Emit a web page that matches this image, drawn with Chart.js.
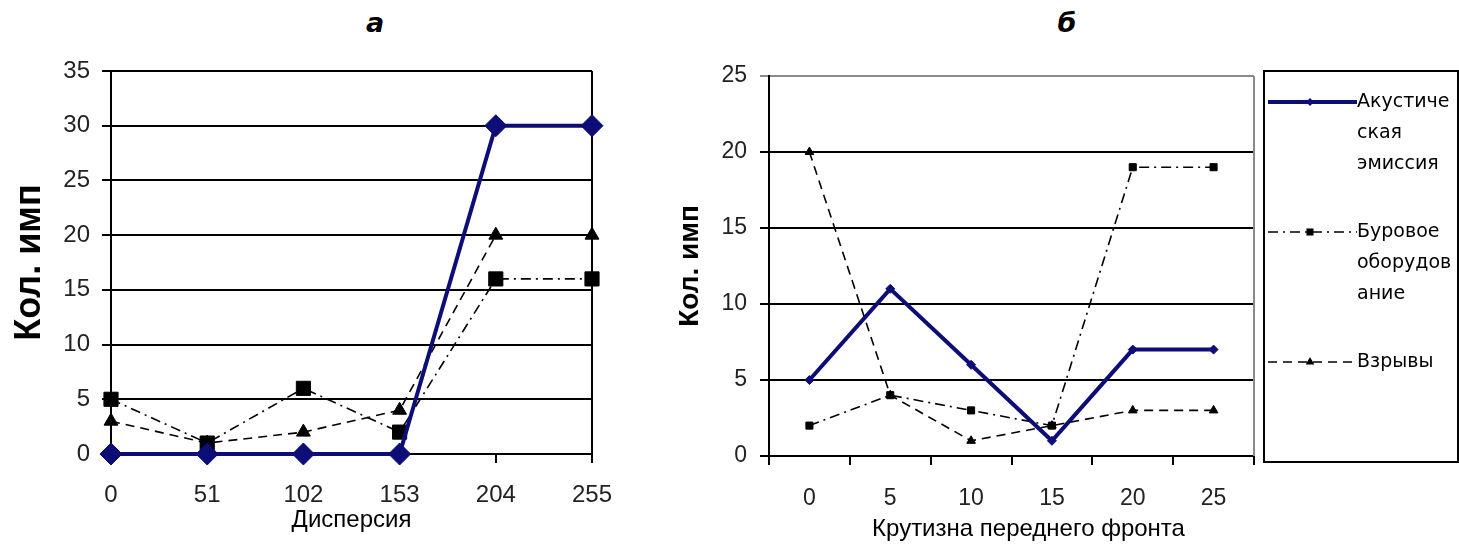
<!DOCTYPE html>
<html><head><meta charset="utf-8">
<script src="https://cdn.jsdelivr.net/npm/chart.js@4.4.1/dist/chart.umd.min.js"></script>
<style>
html,body{margin:0;padding:0;background:#fff;width:1459px;height:549px;overflow:hidden;}
#wa{position:absolute;left:0;top:0;width:640px;height:549px;}
#wb{position:absolute;left:640px;top:0;width:819px;height:549px;}
.ttl{position:absolute;top:9px;width:60px;margin-left:-30px;text-align:center;font-family:"DejaVu Sans";font-weight:bold;font-style:italic;font-size:27px;line-height:27px;color:#000;}
</style></head><body>
<div class="ttl" id="ta" style="left:375px"></div>
<div class="ttl" id="tb" style="left:1067px"></div>
<div id="wa"><canvas id="ca"></canvas></div>
<div id="wb"><canvas id="cb"></canvas></div>
<script>
// ---- data ----
const panelTitles = ['а', 'б'];
const dispersionLabels = ['0', '51', '102', '153', '204', '255'];
const acousticA = [0, 0, 0, 0, 30, 30];
const drillingA = [5, 1, 6, 2, 16, 16];
const blastsA   = [3, 1, 2, 4, 20, 20];
const slopeLabels = ['0', '5', '10', '15', '20', '25'];
const acousticB = [5, 11, 6, 1, 7, 7];
const drillingB = [2, 4, 3, 2, 19, 19];
const blastsB   = [20, 4, 1, 2, 3, 3];
const seriesNames = ['Акустическая эмиссия', 'Буровое оборудование', 'Взрывы'];
const legendLines = [['Акустиче', 'ская', 'эмиссия'], ['Буровое', 'оборудов', 'ание'], ['Взрывы']];
const yTitle = 'Кол. имп';
const xTitleA = 'Дисперсия';
const xTitleB = 'Крутизна переднего фронта';

document.getElementById('ta').textContent = panelTitles[0];
document.getElementById('tb').textContent = panelTitles[1];

const NAVY = '#0d0d78';
const FONT = 'Liberation Sans';

function makeSets(a, d, b, big) {
  return [
    {label: seriesNames[0], data: a, borderColor: NAVY, backgroundColor: NAVY,
     borderWidth: 4, pointStyle: 'rectRot', pointRadius: big ? 11 : 4.5,
     pointBorderWidth: 1, pointBorderColor: NAVY, pointBackgroundColor: NAVY, tension: 0, clip: false},
    {label: seriesNames[1], data: d, borderColor: '#000', backgroundColor: '#000',
     borderWidth: 1.6, borderDash: [10, 5, 2, 5], pointStyle: 'rect', pointRadius: big ? 10 : 5,
     pointBorderWidth: 1, pointBorderColor: '#000', pointBackgroundColor: '#000', tension: 0, clip: false},
    {label: seriesNames[2], data: b, borderColor: '#000', backgroundColor: '#000',
     borderWidth: 1.6, borderDash: [9, 6], pointStyle: 'triangle', pointRadius: big ? 8 : 5,
     pointBorderWidth: 1, pointBorderColor: '#000', pointBackgroundColor: '#000', tension: 0, clip: false}
  ];
}

function drawMarker(ctx, style, x, y, r, color) {
  ctx.save();
  ctx.fillStyle = color; ctx.setLineDash([]);
  ctx.beginPath();
  if (style === 'rectRot') {
    ctx.moveTo(x, y - r); ctx.lineTo(x + r, y); ctx.lineTo(x, y + r); ctx.lineTo(x - r, y);
  } else if (style === 'rect') {
    const s = r * Math.SQRT1_2; ctx.rect(x - s, y - s, 2 * s, 2 * s);
  } else {
    ctx.moveTo(x, y - r); ctx.lineTo(x + r * 0.866, y + r / 2); ctx.lineTo(x - r * 0.866, y + r / 2);
  }
  ctx.closePath(); ctx.fill();
  ctx.restore();
}

const frameRight = {
  id: 'frameRight',
  beforeDatasetsDraw(chart, args, opts) {
    const a = chart.chartArea, ctx = chart.ctx;
    ctx.save();
    ctx.strokeStyle = opts.color || '#000';
    ctx.lineWidth = 2;
    ctx.beginPath();
    ctx.moveTo(a.right, a.top);
    ctx.lineTo(a.right, a.bottom);
    ctx.stroke();
    ctx.restore();
  }
};

const shiftedXTitle = {
  id: 'shiftedXTitle',
  afterDraw(chart, args, opts) {
    if (!opts.text) return;
    const a = chart.chartArea, ctx = chart.ctx;
    ctx.save();
    ctx.fillStyle = '#000';
    ctx.font = opts.size + 'px "' + FONT + '"';
    ctx.textAlign = 'center';
    ctx.textBaseline = 'middle';
    ctx.fillText(opts.text, (a.left + a.right) / 2 + opts.dx, a.bottom + opts.dy);
    ctx.restore();
  }
};

const boxLegend = {
  id: 'boxLegend',
  afterDraw(chart, args, opts) {
    if (!opts.show) return;
    const a = chart.chartArea, ctx = chart.ctx;
    const x0 = a.right + 10, y0 = a.top - 5, x1 = chart.width - 1, y1 = a.bottom + 6;
    ctx.save();
    ctx.strokeStyle = '#000'; ctx.lineWidth = 2;
    ctx.strokeRect(x0, y0, x1 - x0, y1 - y0);
    const itemY = [102, 232, 362].map(v => v - 71 + y0);
    chart.data.datasets.forEach((ds, i) => {
      const y = itemY[i];
      ctx.save();
      ctx.strokeStyle = ds.borderColor;
      ctx.lineWidth = ds.borderWidth;
      ctx.setLineDash(ds.borderDash || []);
      ctx.beginPath(); ctx.moveTo(x0 + 4, y); ctx.lineTo(x0 + 93, y); ctx.stroke();
      ctx.restore();
      drawMarker(ctx, ds.pointStyle, x0 + 46, y, i === 0 ? 4 : 5, ds.borderColor);
      ctx.fillStyle = '#000';
      ctx.font = '19px "DejaVu Sans"';
      ctx.textAlign = 'left'; ctx.textBaseline = 'middle';
      legendLines[i].forEach((t, k) => ctx.fillText(t, x0 + 93, y + k * 31));
    });
    ctx.restore();
  }
};

Chart.register(frameRight, shiftedXTitle, boxLegend);

// ---- chart а ----
new Chart(document.getElementById('ca'), {
  type: 'line',
  data: {labels: dispersionLabels, datasets: makeSets(acousticA, drillingA, blastsA, true)},
  options: {
    responsive: true, maintainAspectRatio: false, animation: false,
    layout: {padding: {top: 71, right: 48, left: 0, bottom: 0}},
    plugins: {legend: {display: false}, tooltip: {enabled: false},
      frameRight: {color: '#000'}, shiftedXTitle: {text: ''}, boxLegend: {show: false}},
    scales: {
      x: {type: 'category', offset: false,
        grid: {display: true, drawOnChartArea: false, drawTicks: true, tickLength: 9, color: '#000', lineWidth: 2},
        border: {display: true, color: '#000', width: 2},
        ticks: {color: '#222', font: {family: FONT, size: 24}, padding: 18, maxRotation: 0, autoSkip: false},
        title: {display: true, text: xTitleA, color: '#000', font: {family: FONT, size: 24}, padding: {top: 0, bottom: 14}},
        afterFit(s) { s.height = 95; }
      },
      y: {min: 0, max: 35,
        ticks: {stepSize: 5, color: '#222', font: {family: FONT, size: 24}, padding: 12},
        grid: {color: '#000', lineWidth: 2, tickLength: 9, drawTicks: true},
        border: {display: true, color: '#000', width: 2},
        title: {display: true, text: yTitle, color: '#000', font: {family: FONT, size: 36, weight: 'bold'}, padding: {top: 8, bottom: 0}},
        afterFit(s) { s.width = 111; }
      }
    }
  }
});

// ---- chart б ----
new Chart(document.getElementById('cb'), {
  type: 'line',
  data: {labels: slopeLabels, datasets: makeSets(acousticB, drillingB, blastsB, false)},
  options: {
    responsive: true, maintainAspectRatio: false, animation: false,
    layout: {padding: {top: 76, right: 205, left: 0, bottom: 0}},
    plugins: {legend: {display: false}, tooltip: {enabled: false},
      frameRight: {color: '#8a8a8a'},
      shiftedXTitle: {text: xTitleB, size: 24, dx: 17, dy: 73},
      boxLegend: {show: true}},
    scales: {
      x: {type: 'category', offset: true,
        grid: {display: true, offset: true, drawOnChartArea: false, drawTicks: true, tickLength: 9, color: '#000', lineWidth: 2},
        border: {display: true, color: '#000', width: 2},
        ticks: {color: '#222', font: {family: FONT, size: 23}, padding: 20, maxRotation: 0, autoSkip: false},
        afterFit(s) { s.height = 93; }
      },
      y: {min: 0, max: 25,
        ticks: {stepSize: 5, color: '#222', font: {family: FONT, size: 23}, padding: 13},
        grid: {color: c => (c.tick && c.tick.value === 25) ? '#8a8a8a' : '#000', lineWidth: 2, tickLength: 9, drawTicks: true},
        border: {display: true, color: '#000', width: 2},
        title: {display: true, text: yTitle, color: '#000', font: {family: FONT, size: 28, weight: 'bold'}, padding: {top: 33, bottom: 0}},
        afterFit(s) { s.width = 129; }
      }
    }
  }
});
</script>
</body></html>
